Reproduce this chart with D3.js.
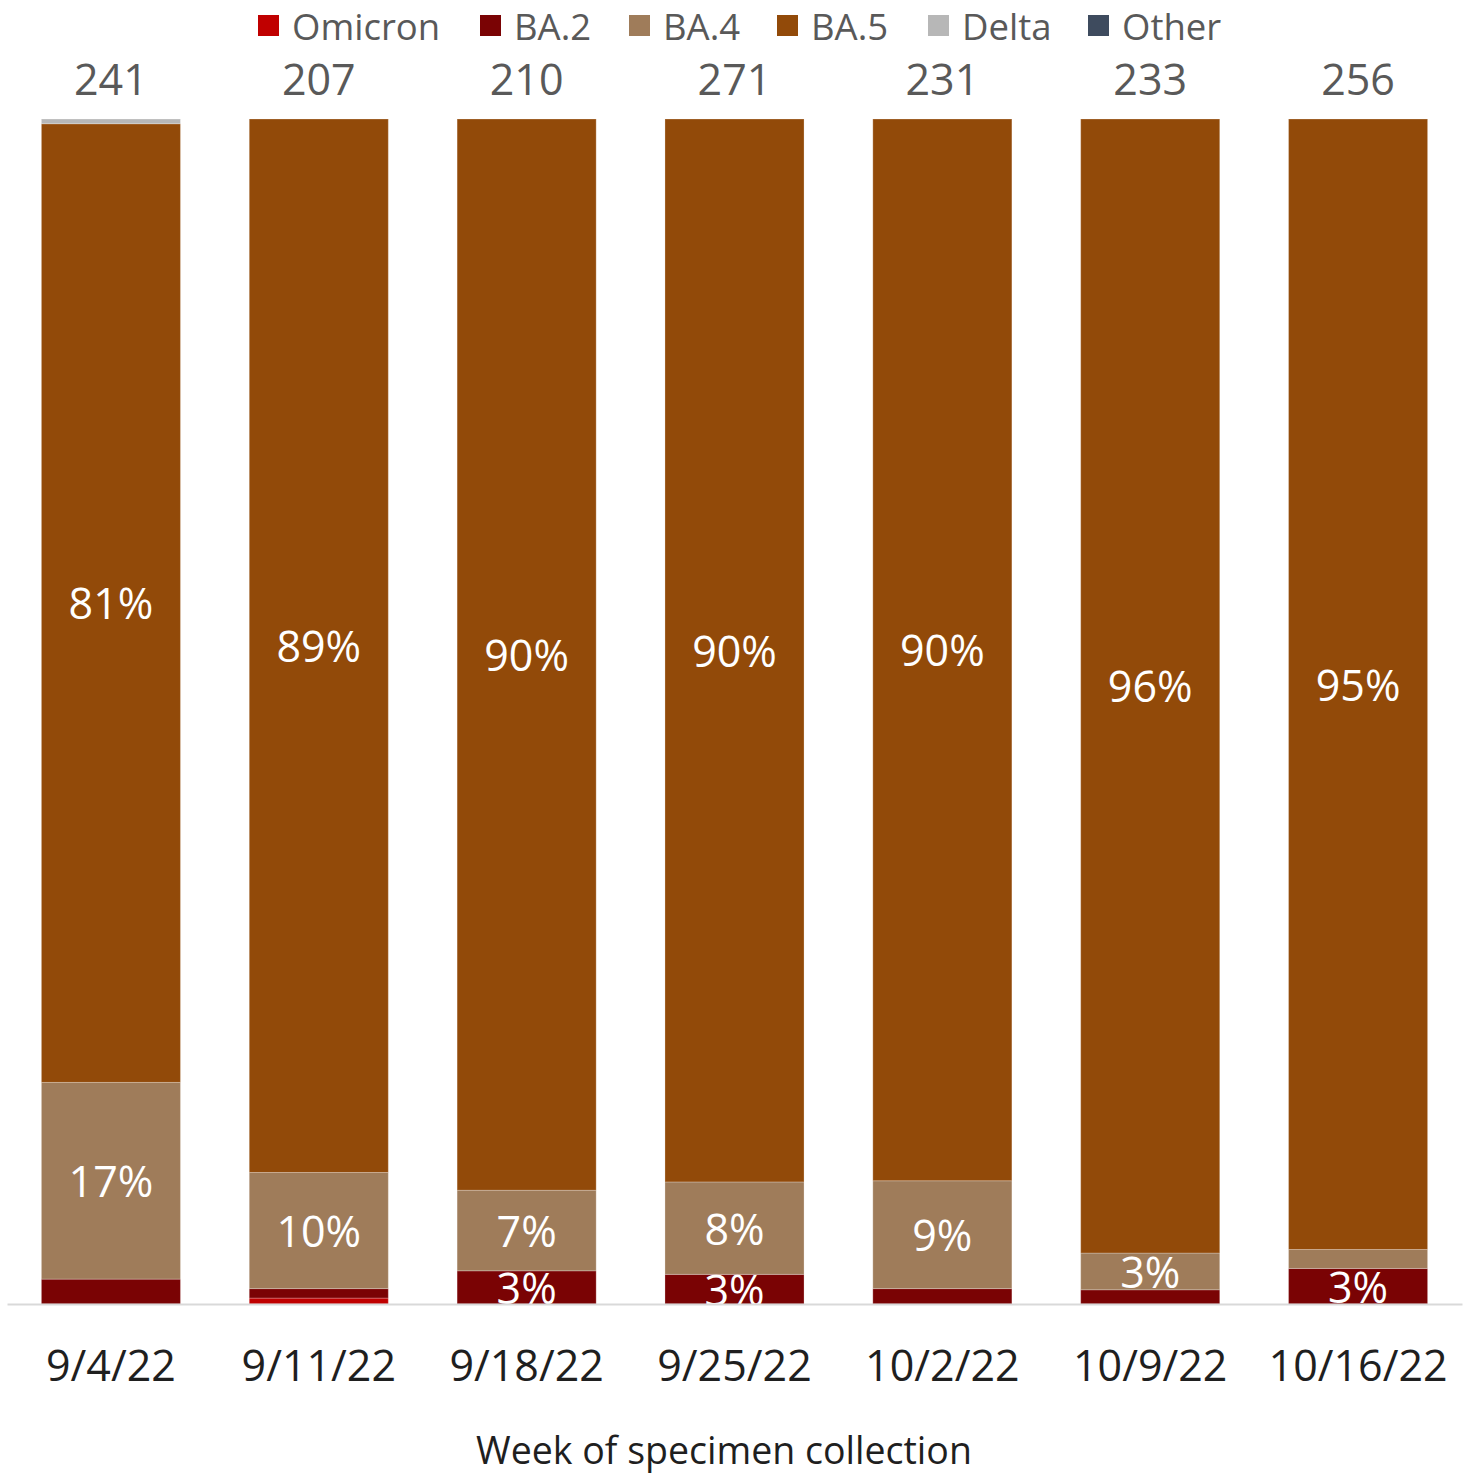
<!DOCTYPE html>
<html>
<head>
<meta charset="utf-8">
<script src="https://cdn.jsdelivr.net/npm/d3@7"></script>
<style>
  html, body { margin: 0; padding: 0; background: #fff; }
  svg { display: block; font-family: "Open Sans", sans-serif; }
</style>
</head>
<body>
<svg id="chart" width="1468" height="1476"></svg>
<script>
// Weekly specimen collection dates
const weeks = ["9/4/22", "9/11/22", "9/18/22", "9/25/22", "10/2/22", "10/9/22", "10/16/22"];
// Number of sequenced specimens per week
const totals = [241, 207, 210, 271, 231, 233, 256];
// Lineage shares (percent of specimens) per week
const omicron = [0, 0.5, 0, 0, 0, 0, 0];
const ba2 = [2.1, 0.8, 2.8, 2.5, 1.3, 1.2, 3.0];
const ba4 = [16.6, 9.8, 6.8, 7.8, 9.1, 3.1, 1.6];
const ba5 = [80.9, 88.9, 90.4, 89.7, 89.6, 95.7, 95.4];
const delta = [0.4, 0, 0, 0, 0, 0, 0];
const other = [0, 0, 0, 0, 0, 0, 0];

const lineages = ["Omicron", "BA.2", "BA.4", "BA.5", "Delta", "Other"];
const colors = ["#c00000", "#7a0304", "#9f7c5a", "#924a09", "#b7b7b7", "#3e4b5e"];
const seriesValues = [omicron, ba2, ba4, ba5, delta, other];

const rows = weeks.map((w, i) => {
  const r = { week: w, total: totals[i] };
  lineages.forEach((k, j) => { r[k] = seriesValues[j][i]; });
  return r;
});

const svg = d3.select("#chart");
const margin = { left: 7, right: 6, top: 119, bottom: 172 };
const W = 1468, H = 1476;

const x = d3.scaleBand()
  .domain(weeks)
  .range([margin.left, W - margin.right])
  .paddingInner(0.331)
  .paddingOuter(0.1655);

const y = d3.scaleLinear()
  .domain([0, 100])
  .range([H - margin.bottom, margin.top]);

const stacked = d3.stack().keys(lineages)(rows);
const color = d3.scaleOrdinal().domain(lineages).range(colors);

// Stacked bars
const layers = svg.append("g").selectAll("g")
  .data(stacked)
  .join("g")
  .attr("fill", d => color(d.key));

layers.selectAll("rect")
  .data(d => d.map(v => ({ key: d.key, v })))
  .join("rect")
  .attr("x", d => x(d.v.data.week))
  .attr("y", d => y(d.v[1]))
  .attr("width", x.bandwidth())
  .attr("height", d => Math.max(0, y(d.v[0]) - y(d.v[1])))
  .attr("stroke", "rgba(255,255,255,0.25)")
  .attr("stroke-width", 1);

// Baseline axis
const xAxis = d3.axisBottom(x).tickSize(0).tickPadding(0);
const axisG = svg.append("g")
  .attr("transform", `translate(0,${y(0)})`)
  .call(xAxis);
axisG.select(".domain").attr("stroke", "#d9d9d9").attr("stroke-width", 2);
axisG.selectAll(".tick text")
  .attr("dy", null)
  .attr("y", 77)
  .attr("font-family", "Open Sans, sans-serif")
  .attr("font-size", 43)
  .attr("fill", "#1f1f1f");

// Segment value labels (shares of 2.5% or more)
layers.selectAll("text")
  .data(d => d.map(v => ({ key: d.key, v })).filter(d => (d.v[1] - d.v[0]) >= 2.5))
  .join("text")
  .attr("x", d => x(d.v.data.week) + x.bandwidth() / 2)
  .attr("y", d => (y(d.v[0]) + y(d.v[1])) / 2)
  .attr("dy", "0.38em")
  .attr("text-anchor", "middle")
  .attr("font-size", 43)
  .attr("fill", "#ffffff")
  .text(d => Math.round(d.v[1] - d.v[0]) + "%");

// Weekly totals above bars
svg.append("g").selectAll("text")
  .data(rows)
  .join("text")
  .attr("x", d => x(d.week) + x.bandwidth() / 2)
  .attr("y", 95)
  .attr("text-anchor", "middle")
  .attr("font-size", 43)
  .attr("fill", "#595959")
  .text(d => d.total);

// Axis title
svg.append("text")
  .attr("x", W / 2 - 10)
  .attr("y", 1464)
  .attr("text-anchor", "middle")
  .attr("font-size", 37.5)
  .attr("fill", "#1f1f1f")
  .text("Week of specimen collection");

// Legend
const legendX = [258, 480, 629, 777, 928, 1088];
const legend = svg.append("g").selectAll("g")
  .data(lineages)
  .join("g")
  .attr("transform", (d, i) => `translate(${legendX[i]},0)`);
legend.append("rect")
  .attr("x", 0).attr("y", 15)
  .attr("width", 21).attr("height", 21)
  .attr("fill", d => color(d));
legend.append("text")
  .attr("x", 34)
  .attr("y", 39.5)
  .attr("font-size", 36.5)
  .attr("fill", "#595959")
  .text(d => d);
</script>
</body>
</html>
